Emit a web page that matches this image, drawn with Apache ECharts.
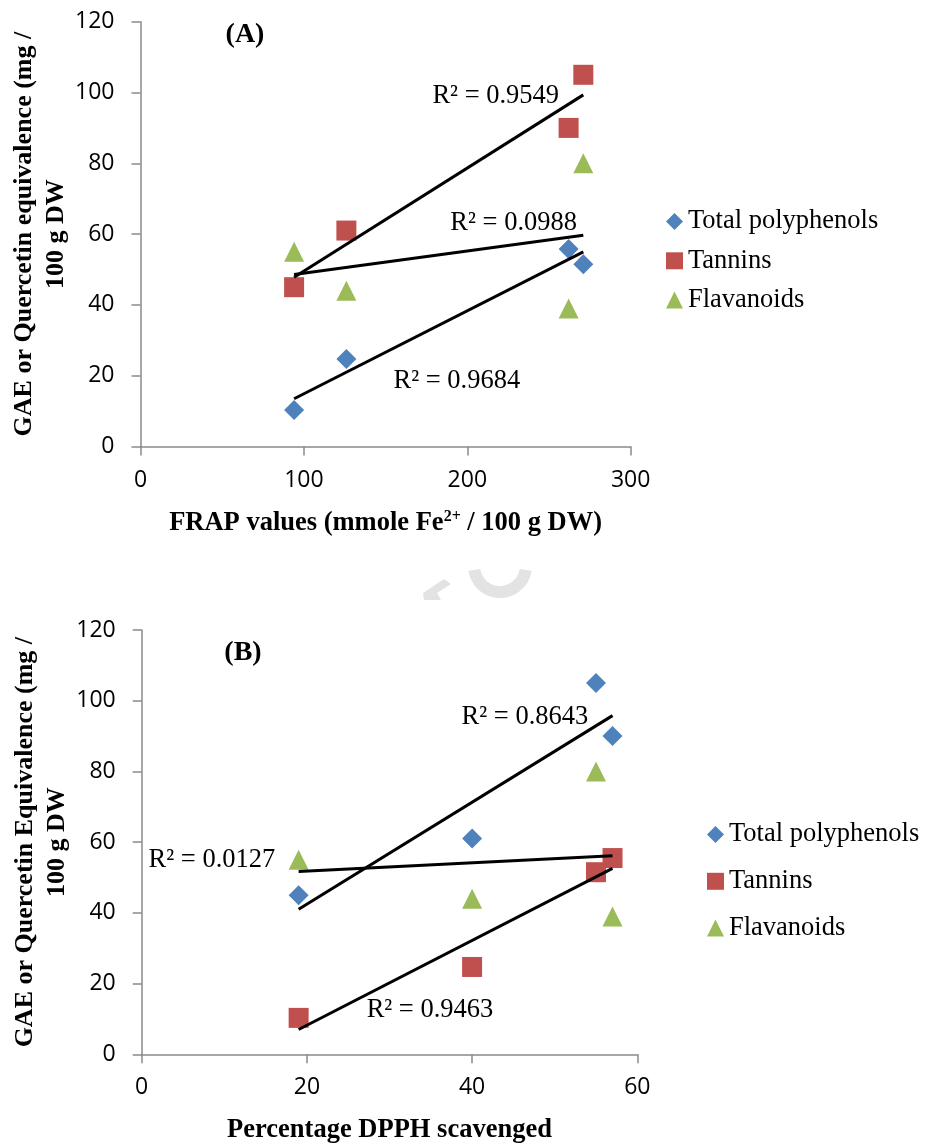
<!DOCTYPE html>
<html>
<head>
<meta charset="utf-8">
<title>Polyphenols, tannins and flavanoids vs antioxidant activity</title>
<script src="https://cdn.jsdelivr.net/npm/echarts@6/dist/echarts.min.js"></script>
<style>
  html, body { margin: 0; padding: 0; background: #ffffff; }
  #chart { width: 925px; height: 1145px; }
</style>
</head>
<body>
<div id="chart"></div>
<script>
// ---- Data ---------------------------------------------------------------
const seriesNames = ['Total polyphenols', 'Tannins', 'Flavanoids'];

// Panel A: FRAP values (mmole Fe2+ / 100 g DW)
const frapValues = [94, 126, 262, 271];
const frapPolyphenols = [10.3, 24.7, 55.8, 51.5];
const frapTannins = [45, 61, 90, 105];
const frapFlavanoids = [55, 44, 39, 80];
const frapR2 = ['0.9684', '0.9549', '0.0988'];   // polyphenols, tannins, flavanoids

// Panel B: percentage DPPH scavenged
const dpphValues = [19, 40, 55, 57];
const dpphPolyphenols = [45, 61, 105, 90];
const dpphTannins = [10.3, 24.7, 51.5, 55.5];
const dpphFlavanoids = [55, 44, 80, 39];
const dpphR2 = ['0.8643', '0.9463', '0.0127'];   // polyphenols, tannins, flavanoids

const frapTicks = [0, 100, 200, 300];
const dpphTicks = [0, 20, 40, 60];
const yTicks = [0, 20, 40, 60, 80, 100, 120];

// ---- Styling ------------------------------------------------------------
const SERIF = '"Liberation Serif", "Times New Roman", serif';
const SANS = '"Open Sans", "Liberation Sans", sans-serif';
const COLORS = ['#4f81bd', '#c0504d', '#9bbb59'];
const SYMBOLS = ['diamond', 'rect', 'triangle'];
const AXIS_GRAY = '#8a8a8a';

// where each R² caption sits, in data units of its panel
const captionAnchorsA = [[193.6, 18.6], [217.4, 98.9], [228.4, 63.1]];
const captionAnchorsB = [[46.4, 95.5], [34.9, 12.5], [8.5, 54.9]];

// ordinary least-squares line through the points, spanning the x range
function linearFit(xs, ys) {
  const n = xs.length;
  const mx = xs.reduce((a, b) => a + b, 0) / n;
  const my = ys.reduce((a, b) => a + b, 0) / n;
  let sxy = 0, sxx = 0;
  for (let i = 0; i < n; i++) {
    sxy += (xs[i] - mx) * (ys[i] - my);
    sxx += (xs[i] - mx) * (xs[i] - mx);
  }
  const slope = sxy / sxx;
  const icpt = my - slope * mx;
  const x0 = Math.min(...xs), x1 = Math.max(...xs);
  return [[x0, icpt + slope * x0], [x1, icpt + slope * x1]];
}

function scatter(name, xs, ys, k, panel) {
  return {
    name: name,
    type: 'scatter',
    xAxisIndex: panel, yAxisIndex: panel,
    symbol: SYMBOLS[k],
    symbolSize: 20,
    itemStyle: { color: COLORS[k], opacity: 1 },
    data: xs.map((x, i) => [x, ys[i]]),
    z: 3
  };
}

function trend(name, xs, ys, r2, anchor, panel) {
  return {
    name: name + ' trend',
    type: 'line',
    xAxisIndex: panel, yAxisIndex: panel,
    data: linearFit(xs, ys),
    symbol: 'none',
    silent: true,
    lineStyle: { color: '#000000', width: 3 },
    z: 4,
    markPoint: {
      symbol: 'circle',
      symbolSize: 0,
      silent: true,
      label: {
        show: true,
        position: 'inside',
        formatter: 'R² = ' + r2,
        color: '#000000',
        fontFamily: SERIF,
        fontSize: 26.5
      },
      data: [{ coord: anchor }]
    }
  };
}

function xAxisFor(panel, ticks, title, titleStyle) {
  return {
    type: 'value',
    gridIndex: panel,
    min: ticks[0], max: ticks[ticks.length - 1], interval: ticks[1] - ticks[0],
    splitLine: { show: false },
    axisLine: { show: true, onZero: false, lineStyle: { color: AXIS_GRAY, width: 1.5 } },
    axisTick: { show: true, length: 9, lineStyle: { color: AXIS_GRAY, width: 1.5 } },
    axisLabel: { color: '#000000', fontFamily: SANS, fontSize: 23, margin: 22 },
    name: title,
    nameLocation: 'middle',
    nameGap: 62,
    nameMoveOverlap: false,
    nameTextStyle: titleStyle
  };
}

function yAxisFor(panel, title) {
  return {
    type: 'value',
    gridIndex: panel,
    min: yTicks[0], max: yTicks[yTicks.length - 1], interval: yTicks[1] - yTicks[0],
    splitLine: { show: false },
    axisLine: { show: true, onZero: false, lineStyle: { color: AXIS_GRAY, width: 1.5 } },
    axisTick: { show: true, length: 9, lineStyle: { color: AXIS_GRAY, width: 1.5 } },
    axisLabel: { color: '#000000', fontFamily: SANS, fontSize: 23, margin: 26 },
    name: title,
    nameLocation: 'middle',
    nameRotate: 90,
    nameGap: 68,
    nameMoveOverlap: false,
    nameTextStyle: {
      color: '#000000', fontFamily: SERIF, fontSize: 26, fontWeight: 'bold',
      lineHeight: 32, align: 'center'
    }
  };
}

const frapTitleStyle = {
  color: '#000000', fontFamily: SERIF, fontSize: 26.5, fontWeight: 'bold',
  rich: {
    b: { color: '#000000', fontFamily: SERIF, fontSize: 26.5, fontWeight: 'bold', lineHeight: 30 },
    sup: { color: '#000000', fontFamily: SERIF, fontSize: 16, fontWeight: 'bold',
           lineHeight: 30, verticalAlign: 'top', padding: [0, 0, 10, 0] }
  }
};
const dpphTitleStyle = { color: '#000000', fontFamily: SERIF, fontSize: 26.5, fontWeight: 'bold' };

function legendAt(left, top, gap) {
  return {
    orient: 'vertical',
    left: left, top: top,
    padding: 0,
    itemWidth: 17, itemHeight: 17,
    itemGap: gap,
    selectedMode: false,
    data: seriesNames,
    textStyle: { color: '#000000', fontFamily: SERIF, fontSize: 26.5, lineHeight: 26 }
  };
}

const panelTitleStyle = { color: '#000000', fontFamily: SERIF, fontSize: 28, fontWeight: 'bold' };

const option = {
  animation: false,
  backgroundColor: '#ffffff',
  title: [
    { text: '(A)', left: 245, top: 35, textAlign: 'center', textVerticalAlign: 'middle', padding: 0, textStyle: panelTitleStyle },
    { text: '(B)', left: 243, top: 653, textAlign: 'center', textVerticalAlign: 'middle', padding: 0, textStyle: panelTitleStyle }
  ],
  legend: [legendAt(666, 208, 12.3), legendAt(707, 821, 19.8)],
  grid: [
    { left: 140.5, right: 294.3, top: 21.7, bottom: 698.5, containLabel: false, outerBoundsMode: 'none' },
    { left: 141.7, right: 287.7, top: 630, bottom: 90.7, containLabel: false, outerBoundsMode: 'none' }
  ],
  xAxis: [
    xAxisFor(0, frapTicks, '{b|FRAP values (mmole Fe}{sup|2+}{b| / 100 g DW)}', frapTitleStyle),
    xAxisFor(1, dpphTicks, 'Percentage DPPH scavenged', dpphTitleStyle)
  ],
  yAxis: [
    yAxisFor(0, 'GAE or Quercetin equivalence (mg /\n100 g DW'),
    yAxisFor(1, 'GAE or Quercetin Equivalence (mg /\n100 g DW')
  ],
  // faint watermark fragments between the two panels
  graphic: [
    {
      type: 'arc', silent: true, z: -1,
      shape: { cx: 500, cy: 566, r: 26, startAngle: 0.15, endAngle: Math.PI - 0.15, clockwise: true },
      style: { fill: 'none', stroke: '#e3e3e3', lineWidth: 12 }
    },
    {
      type: 'polygon', silent: true, z: -1,
      shape: { points: [[444, 579], [451, 584], [437, 593], [441, 600], [424, 600], [423, 593]] },
      style: { fill: '#e3e3e3' }
    }
  ],
  series: [
    scatter(seriesNames[0], frapValues, frapPolyphenols, 0, 0),
    scatter(seriesNames[1], frapValues, frapTannins, 1, 0),
    scatter(seriesNames[2], frapValues, frapFlavanoids, 2, 0),
    trend(seriesNames[0], frapValues, frapPolyphenols, frapR2[0], captionAnchorsA[0], 0),
    trend(seriesNames[1], frapValues, frapTannins, frapR2[1], captionAnchorsA[1], 0),
    trend(seriesNames[2], frapValues, frapFlavanoids, frapR2[2], captionAnchorsA[2], 0),

    scatter(seriesNames[0], dpphValues, dpphPolyphenols, 0, 1),
    scatter(seriesNames[1], dpphValues, dpphTannins, 1, 1),
    scatter(seriesNames[2], dpphValues, dpphFlavanoids, 2, 1),
    trend(seriesNames[0], dpphValues, dpphPolyphenols, dpphR2[0], captionAnchorsB[0], 1),
    trend(seriesNames[1], dpphValues, dpphTannins, dpphR2[1], captionAnchorsB[1], 1),
    trend(seriesNames[2], dpphValues, dpphFlavanoids, dpphR2[2], captionAnchorsB[2], 1)
  ]
};

const chart = echarts.init(document.getElementById('chart'), null, { renderer: 'canvas' });
chart.setOption(option);
</script>
</body>
</html>
